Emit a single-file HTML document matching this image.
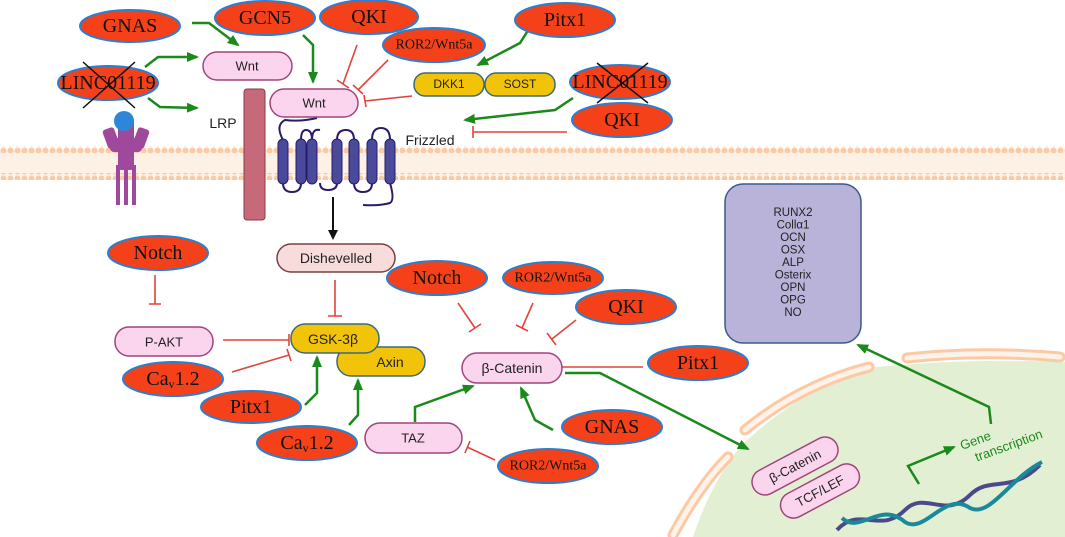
<!DOCTYPE html>
<html><head><meta charset="utf-8"><style>
html,body{margin:0;padding:0;background:#fff;}
svg{display:block;}
.e{fill:#f4411a;stroke:#2a7fd0;stroke-width:2;}
.et{font-family:"Liberation Serif",serif;font-size:20px;fill:#111;text-anchor:middle;dominant-baseline:central;}
.es{font-family:"Liberation Serif",serif;font-size:14px;fill:#111;text-anchor:middle;dominant-baseline:central;}
.p{fill:#fbd5ee;stroke:#a0457a;stroke-width:1.5;}
.y{fill:#f1c40a;stroke:#3b6a7a;stroke-width:1.5;}
.t{font-family:"Liberation Sans",sans-serif;font-size:13px;fill:#222;text-anchor:middle;dominant-baseline:central;}
.g{stroke:#1a8a1a;stroke-width:2.5;fill:none;}
.r{stroke:#e0453a;stroke-width:1.6;fill:none;}
</style></head><body>
<svg width="1065" height="537" viewBox="0 0 1065 537" xmlns="http://www.w3.org/2000/svg">
<defs>
<marker id="ga" markerWidth="12" markerHeight="10" refX="10" refY="5" orient="auto" markerUnits="userSpaceOnUse"><path d="M0,0 L12,5 L0,10 z" fill="#1a8a1a"/></marker>
<marker id="ba" markerWidth="10" markerHeight="10" refX="8" refY="5" orient="auto" markerUnits="userSpaceOnUse"><path d="M0,0 L10,5 L0,10 z" fill="#111"/></marker>
<pattern id="dots" width="7" height="7" patternUnits="userSpaceOnUse"><circle cx="3.5" cy="3.5" r="3" fill="#fbc9a3"/></pattern>
</defs>
<!-- membrane -->
<rect x="0" y="150" width="1065" height="26" fill="#fdf1e6"/>
<rect x="0" y="146" width="1065" height="7" fill="url(#dots)"/>
<rect x="0" y="173" width="1065" height="7" fill="url(#dots)"/>
<!-- nucleus -->
<path d="M693,537 Q712,480 742,445 Q800,390 867,368 Q960,358 1065,362 L1065,537 Z" fill="#e2efd2"/>
<g stroke="#fbc9a3" stroke-width="11" fill="none" stroke-linecap="round">
<path d="M673,535 Q700,485 728,457"/>
<path d="M745,430 Q800,385 869,367"/>
<path d="M907,358 Q980,350 1060,357"/>
</g>
<g stroke="#fef3ea" stroke-width="5" fill="none" stroke-linecap="round">
<path d="M673,535 Q700,485 728,457"/>
<path d="M745,430 Q800,385 869,367"/>
<path d="M907,358 Q980,350 1060,357"/>
</g>
<!-- receptor left -->
<g fill="#a0489c">
<rect x="116" y="165" width="4" height="40"/><rect x="124" y="165" width="4" height="40"/><rect x="132" y="165" width="4" height="40"/>
<rect x="118" y="120" width="16" height="50" rx="3"/>
<rect x="105" y="128" width="12" height="20" rx="3" transform="rotate(-20 111 138)"/>
<rect x="135" y="128" width="12" height="20" rx="3" transform="rotate(20 141 138)"/>
<rect x="110" y="138" width="32" height="14" rx="4"/>
</g>
<circle cx="124" cy="121" r="10" fill="#2e86d8"/>
<!-- LRP -->
<rect x="244" y="89" width="21" height="131" rx="3" fill="#c66a7a" stroke="#8a3a4a"/>
<text x="223" y="123" class="t" style="font-size:14px">LRP</text>
<!-- frizzled -->
<g fill="none" stroke="#2a1a6a" stroke-width="2">
<path d="M317,118 Q300,122 285,120 Q275,125 283,140"/>
<path d="M301,140 Q301,130 306,130 Q312,130 312,140"/>
<path d="M312,140 Q312,128 320,130"/>
<path d="M337,140 Q337,130 346,130 Q354,130 354,140"/>
<path d="M372,140 Q372,128 381,128 Q390,128 390,140"/>
<path d="M283,183 Q283,192 292,192 Q301,192 301,183"/>
<path d="M320,183 Q320,190 328,190 Q337,190 337,183"/>
<path d="M354,183 Q354,192 363,192 Q372,192 372,183"/>
<path d="M390,183 Q395,200 390,203 Q380,206 363,205"/>
</g>
<g fill="#4a4a9a" stroke="#2a1a6a">
<rect x="278" y="139" width="10" height="45" rx="5"/><rect x="296" y="139" width="10" height="45" rx="5"/><rect x="307" y="139" width="10" height="45" rx="5"/>
<rect x="332" y="139" width="10" height="45" rx="5"/><rect x="349" y="139" width="10" height="45" rx="5"/><rect x="367" y="139" width="10" height="45" rx="5"/><rect x="385" y="139" width="10" height="45" rx="5"/>
</g>
<text x="430" y="140" class="t" style="font-size:14px">Frizzled</text>
<!-- arrows top -->
<path class="g" d="M192,23 L209,23 L238,45" marker-end="url(#ga)"/>
<path class="g" d="M145,67 L158,57 L197,57" marker-end="url(#ga)"/>
<path class="g" d="M148,98 L160,107 L197,108" marker-end="url(#ga)"/>
<path class="g" d="M303,35 L313,45 L313,82" marker-end="url(#ga)"/>
<path class="g" d="M527,32 L520,43 L478,65" marker-end="url(#ga)"/>
<path class="g" d="M573,98 L555,110 L465,120" marker-end="url(#ga)"/>
<path class="r" d="M357,45 L343,84 M337,80 L349,88"/>
<path class="r" d="M388,60 L358,90 M353,85 L363,94"/>
<path class="r" d="M412,96 L365,101 M364,95 L366,107"/>
<path class="r" d="M567,132 L473,132 M473,126 L473,138" stroke-width="2.2"/>
<!-- pills top -->
<rect x="203" y="52" width="89" height="28" rx="14" class="p"/><text x="247" y="66" class="t">Wnt</text>
<rect x="270" y="89" width="88" height="28" rx="14" class="p"/><text x="314" y="103" class="t">Wnt</text>
<rect x="414" y="73" width="70" height="23" rx="11" class="y"/><text x="449" y="84" class="t" style="font-size:12px">DKK1</text>
<rect x="485" y="73" width="70" height="23" rx="11" class="y"/><text x="520" y="84" class="t" style="font-size:12px">SOST</text>
<!-- ellipses top -->
<ellipse cx="130" cy="26" rx="50" ry="16" class="e"/><text x="130" y="26" class="et">GNAS</text>
<ellipse cx="265" cy="18" rx="50" ry="17" class="e"/><text x="265" y="18" class="et">GCN5</text>
<ellipse cx="369" cy="17" rx="49" ry="17" class="e"/><text x="369" y="17" class="et">QKI</text>
<ellipse cx="434" cy="45" rx="51" ry="17" class="e"/><text x="434" y="45" class="es">ROR2/Wnt5a</text>
<ellipse cx="565" cy="20" rx="50" ry="17" class="e"/><text x="565" y="20" class="et">Pitx1</text>
<ellipse cx="108" cy="83" rx="50" ry="17" class="e"/><text x="108" y="83" class="et">LINC01119</text>
<path d="M83,62 L135,108 M135,62 L83,108" stroke="#111" stroke-width="1.5"/>
<ellipse cx="620" cy="82" rx="50" ry="17" class="e"/><text x="620" y="82" class="et">LINC01119</text>
<path d="M597,63 L648,103 M648,63 L597,103" stroke="#111" stroke-width="1.5"/>
<ellipse cx="622" cy="120" rx="50" ry="17" class="e"/><text x="622" y="120" class="et">QKI</text>
<!-- middle -->
<path d="M333,197 L333,238" stroke="#111" stroke-width="2" marker-end="url(#ba)"/>
<rect x="277" y="244" width="118" height="28" rx="14" fill="#f8dcdc" stroke="#7a4040" stroke-width="1.5"/><text x="336" y="258" class="t" style="font-size:14px">Dishevelled</text>
<path class="r" d="M335,280 L335,316 M328,316 L342,316"/>
<path class="r" d="M155,275 L155,304 M149,304 L161,304"/>
<path class="r" d="M223,340 L289,340 M289,334 L289,346"/>
<path class="r" d="M232,372 L289,355 M287,349 L291,361"/>
<path class="g" d="M305,405 L317,393 L317,357" marker-end="url(#ga)"/>
<path class="g" d="M349,425 L358,415 L358,380" marker-end="url(#ga)"/>
<rect x="115" y="327" width="98" height="29" rx="14" class="p"/><text x="164" y="342" class="t">P-AKT</text>
<rect x="337" y="347" width="88" height="29" rx="14" class="y"/><text x="390" y="362" class="t" style="font-size:14px">Axin</text>
<rect x="291" y="324" width="88" height="29" rx="14" class="y"/><text x="333" y="339" class="t" style="font-size:14px">GSK-3β</text>
<ellipse cx="158" cy="253" rx="50" ry="17" class="e"/><text x="158" y="253" class="et">Notch</text>
<ellipse cx="173" cy="379" rx="50" ry="17" class="e"/><text x="173" y="379" class="et">Ca<tspan font-size="12" dy="5">v</tspan><tspan dy="-5">1.2</tspan></text>
<ellipse cx="251" cy="407" rx="50" ry="16" class="e"/><text x="251" y="407" class="et">Pitx1</text>
<ellipse cx="307" cy="443" rx="50" ry="17" class="e"/><text x="307" y="443" class="et">Ca<tspan font-size="12" dy="5">v</tspan><tspan dy="-5">1.2</tspan></text>
<!-- beta catenin area -->
<path class="r" d="M458,303 L475,328 M469,332 L481,324"/>
<path class="r" d="M533,303 L522,328 M516,325 L528,331"/>
<path class="r" d="M576,320 L552,339 M547,333 L556,345"/>
<path class="r" d="M643,367 L560,367 M560,361 L560,373" stroke-width="2"/>
<path class="r" d="M495,460 L467,447 M465,453 L470,441"/>
<path class="g" d="M415,422 L415,407 L473,386" marker-end="url(#ga)" stroke-width="3.5"/>
<path class="g" d="M553,430 L535,420 L521,388" marker-end="url(#ga)"/>
<path class="g" d="M565,373 L600,373 L748,449" marker-end="url(#ga)"/>
<rect x="462" y="353" width="100" height="30" rx="15" class="p"/><text x="512" y="368" class="t" style="font-size:14px">β-Catenin</text>
<rect x="365" y="423" width="97" height="30" rx="15" class="p"/><text x="413" y="438" class="t">TAZ</text>
<ellipse cx="437" cy="278" rx="50" ry="17" class="e"/><text x="437" y="278" class="et">Notch</text>
<ellipse cx="553" cy="278" rx="50" ry="16" class="e"/><text x="553" y="278" class="es">ROR2/Wnt5a</text>
<ellipse cx="626" cy="307" rx="50" ry="17" class="e"/><text x="626" y="307" class="et">QKI</text>
<ellipse cx="698" cy="363" rx="50" ry="17" class="e"/><text x="698" y="363" class="et">Pitx1</text>
<ellipse cx="612" cy="427" rx="50" ry="17" class="e"/><text x="612" y="427" class="et">GNAS</text>
<ellipse cx="548" cy="466" rx="50" ry="17" class="e"/><text x="548" y="466" class="es">ROR2/Wnt5a</text>
<!-- gene box -->
<rect x="725" y="184" width="136" height="159" rx="18" fill="#b9b2d9" stroke="#3a5a8a" stroke-width="1.5"/>
<text x="793" y="213" class="t" style="font-size:11.5px">RUNX2</text>
<text x="793" y="225.5" class="t" style="font-size:11.5px">Collα1</text>
<text x="793" y="238" class="t" style="font-size:11.5px">OCN</text>
<text x="793" y="250.5" class="t" style="font-size:11.5px">OSX</text>
<text x="793" y="263" class="t" style="font-size:11.5px">ALP</text>
<text x="793" y="275.5" class="t" style="font-size:11.5px">Osterix</text>
<text x="793" y="288" class="t" style="font-size:11.5px">OPN</text>
<text x="793" y="300.5" class="t" style="font-size:11.5px">OPG</text>
<text x="793" y="313" class="t" style="font-size:11.5px">NO</text>
<path class="g" d="M991,424 L989,407 L858,345" marker-end="url(#ga)"/>
<!-- nucleus content -->
<g transform="translate(795,466) rotate(-28)"><rect x="-47" y="-13" width="94" height="26" rx="13" class="p"/><text x="0" y="0" class="t">β-Catenin</text></g>
<g transform="translate(820,491) rotate(-28)"><rect x="-43" y="-13" width="86" height="26" rx="13" class="p"/><text x="0" y="0" class="t">TCF/LEF</text></g>
<path d="M837,530 C860,505 880,535 905,510 C925,490 945,520 970,495 C990,475 1010,495 1040,465" stroke="#4a4a8a" stroke-width="4" fill="none"/>
<path d="M842,518 C860,535 880,500 905,522 C925,535 945,490 970,508 C990,518 1010,478 1042,462" stroke="#1a8a9a" stroke-width="4" fill="none"/>
<path class="g" d="M919,484 L908,466 L954,447" marker-end="url(#ga)"/>
<g transform="translate(962,450) rotate(-20)"><text x="0" y="0" font-family="Liberation Sans,sans-serif" font-size="13" fill="#1a8a1a">Gene</text><text x="10" y="16" font-family="Liberation Sans,sans-serif" font-size="13" fill="#1a8a1a">transcription</text></g>
</svg>
</body></html>
